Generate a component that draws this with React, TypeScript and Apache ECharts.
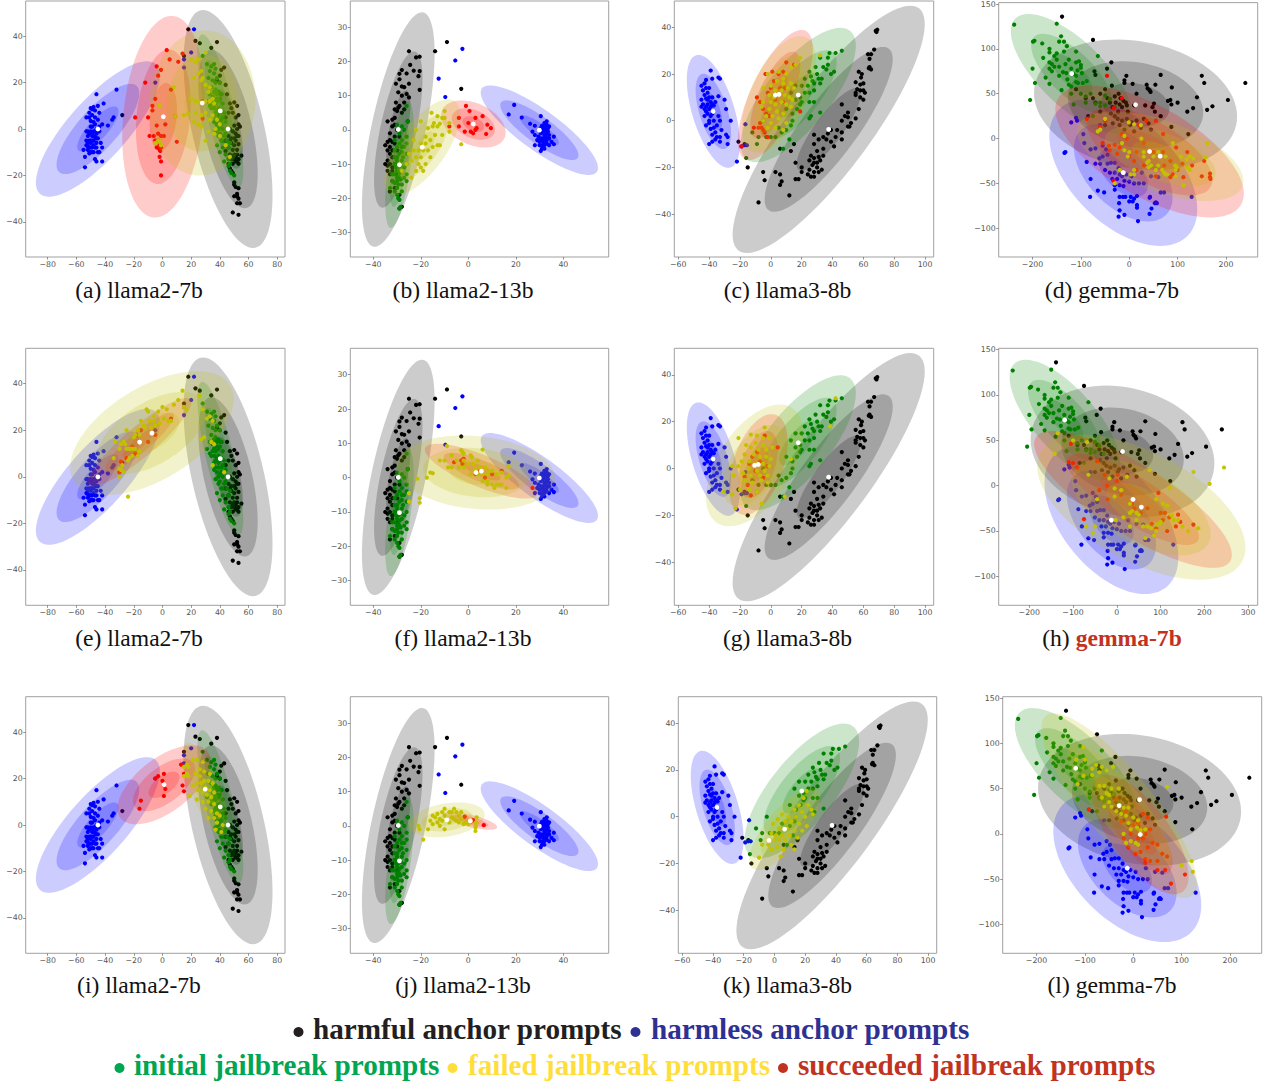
import React, { useEffect, useRef } from "react";
import * as echarts from "echarts";

// ---- tick labels ----
const ticksA = [-80, -60, -40, -20, 0, 20, 40, 60, 80];
const ticksAY = [-40, -20, 0, 20, 40];
const ticksB = [-40, -20, 0, 20, 40];
const ticksBY = [-30, -20, -10, 0, 10, 20, 30];
const ticksC = [-60, -40, -20, 0, 20, 40, 60, 80, 100];
const ticksCY = [-40, -20, 0, 20, 40];
const ticksD = [-200, -100, 0, 100, 200];
const ticksH = [-200, -100, 0, 100, 200, 300];
const ticksDY = [-100, -50, 0, 50, 100, 150];

// ---- axis ranges ----
const rangeAX = [-95.3, 85.4];
const rangeAY = [-55.2, 55.2];
const rangeBX = [-49.7, 59.1];
const rangeBY = [-37.2, 37.7];
const rangeCX = [-62.6, 105.6];
const rangeCY = [-58.4, 51.3];
const rangeDX = [-270, 265.6];
const rangeHX = [-270, 322];
const rangeDY = [-132, 151.5];

// ---- captions ----
const captions = [
  "(a) llama2-7b", "(b) llama2-13b", "(c) llama3-8b", "(d) gemma-7b",
  "(e) llama2-7b", "(f) llama2-13b", "(g) llama3-8b", "(h) gemma-7b",
  "(i) llama2-7b", "(j) llama2-13b", "(k) llama3-8b", "(l) gemma-7b",
];

// ---- ellipse statistics: centre x, centre y, 3-sigma half width, 3-sigma half height, correlation ----
const harmfulStatsA = [45.7, 0, 31, 51.3, -0.56];
const harmlessStatsA = [-45, 0, 43.2, 29.2, 0.79];
const initialStatsA = [40.3, 7.8, 16, 33, -0.78];
const harmfulStatsB = [-29.5, 0.1, 15.3, 34.3, 0.65];
const harmlessStatsB = [29.9, -0.1, 24.7, 13.1, -0.84];
const initialStatsB = [-29, -10.2, 6, 18.5, 0.6];
const harmfulStatsC = [37.5, -3.7, 62.3, 53, 0.85];
const harmlessStatsC = [-37.3, 4, 17.2, 24.2, -0.56];
const initialStatsC = [17.8, 11, 37.3, 28.8, 0.73];
const harmfulStatsD = [13, 37.7, 210, 72.7, -0.18];
const harmlessStatsD = [-12.4, -38, 153, 81.6, -0.5];
const initialStatsD = [-119, 72.4, 126, 66.5, -0.71];

const failedStatsOf = {
  a: [27.7, 11.2, 37, 31.3, 0.05], e: [-7.3, 18.75, 57, 26.6, 0.55], i: [29.8, 15.4, 16, 20, -0.74],
  b: [-19.4, -5.1, 16, 14, 0.68], f: [3.2, 1.5, 33.4, 10.8, -0.16], j: [-9, 1.75, 15.9, 5.1, 0.29],
  c: [5.3, 11.3, 24, 25, 0.57], g: [-10.5, 1.3, 31.5, 26, 0.52], k: [6.6, -5.3, 23, 17.5, 0.75],
  d: [64, -19.6, 172, 50, -0.55], h: [56, -23.7, 238, 80, -0.56], l: [-29, 31.2, 161, 102, -0.84],
};
const succeededStatsOf = {
  a: [0.6, 5.3, 28.6, 43.5, 0.2], e: [-15.9, 14.9, 36, 19, 0.9], i: [1.1, 17.3, 32.4, 17, 0.6],
  b: [2.1, 1.7, 13.6, 6.9, -0.36], f: [5.5, 1.9, 23.8, 8, -0.78], j: [0.85, 1.45, 11.3, 2.6, -0.7],
  c: [2.9, 11, 24.3, 27.9, 0.7], g: [-8.1, 1.7, 19, 21.5, 0.45], k: [-3.6, -10.1, 1.6, 1.1, 0.3],
  d: [42, -14.4, 195, 73.5, -0.64], h: [37, -15.2, 226, 75.5, -0.81], l: [14.5, -0.7, 100, 66, -0.7],
};

// ---- points, column A (llama2-7b) ----
const harmfulA = [[18,43],[23,38],[26,37],[38,37.5],[34,35],[15,31.5],[43,26.5],[41,25.5],[40,23],[38,21],[40,20],[44,19],[45,15],[41,15],[47,11],[50,11.5],[48,9],[52,10],[49,7],[46,7],[53,6],[51,5],[44,5],[53,2],[50,1.5],[47,0],[52,0],[54,1],[49,-1],[52,-3],[46,-3],[48,-4],[51,-5],[44,-5],[50,-7],[53,-6.5],[46,-8],[49,-9],[52,-9],[44,-9.5],[47,-11],[50,-11],[55,-11.5],[53,-13],[48,-13],[51,-14],[49,-15],[53,-15],[46,-15],[47,-17],[49,-19],[48,-18],[50,-23],[50,-24],[51,-25],[53,-25.5],[52,-28],[50,-29],[52,-29],[53,-30],[52,-32],[54,-32],[49,-36],[53,-37],[-28,6],[51,-2],[50,-4],[53,-3],[52,-11],[51,-12],[50,-13],[52,-14],[49,-12],[48,-6],[47,-5]];
const harmlessA = [[22,43],[20,33],[15,30],[15,26.5],[-5,20],[-32,17],[-46,15],[-41,11],[-45,10],[-48,9.5],[-50,9],[-47,8],[-44,7],[-49,6],[-53,5],[-51,5],[-47,5],[-45,4],[-50,3.5],[-35,4],[-34,5],[-38,1.5],[-47,2],[-44,1],[-49,1],[-42,2],[-53,-1],[-50,-1],[-48,-1],[-46,-2],[-44,-1],[-52,-3],[-49,-3],[-47,-3.5],[-45,-4],[-53,-5],[-51,-5],[-48,-5],[-46,-6],[-50,-6],[-43,-6],[-53,-7],[-49,-8],[-51,-8],[-47,-8],[-42,-8],[-55,-9],[-52,-9],[-50,-10],[-48,-10],[-45,-10],[-44,-10],[-54,-12],[-47,-13],[-46,-14],[-42,-14],[-54,-16.5],[-52,-1],[-51,-2],[-49,-2],[-48,-3],[-47,-1],[-46,-4],[-52,-6],[-50,-5],[-49,-5],[-48,-7],[-46,-8],[-52,-7.5],[-50,-8],[-49,-10],[-51,-10.5],[-50,1],[-48,3],[-51,7],[-49,8.5],[-46,0]];
const initialA = [[28,31.5],[31,28],[34,27],[36,28],[37,26],[33,25],[36,24],[32,22],[38,22],[35,21],[37,20],[40,20],[34,18],[37,17],[39,16],[41,15],[35,14],[38,13],[40,13],[37,11],[42,11],[33,10],[36,9],[39,9],[41,8],[43,7],[36,6],[39,6],[42,5],[37,4],[41,4],[38,2],[44,3],[40,1],[42,0],[37,-1],[45,0],[39,-3],[43,-3],[41,-5],[45,-5],[38,-7],[42,-8],[46,-8],[40,-10],[44,-11],[46,-13],[43,-14],[47,-15],[46,-16],[47,-18],[48,-19],[50,-20],[47,-6],[44,-2],[33,15],[31,12],[36,16],[38,15],[39,12],[35,11],[38,8],[40,7],[37,7],[36,3],[39,4],[41,2],[39,0],[40,-2],[42,-5],[36,12],[34,9]];
const failedA1 = [[30,33],[25,30],[20,30],[23,29],[27,25],[25,24],[22,22],[28,22],[8,18],[27,21],[30,19],[33,18],[32,16],[20,13],[23,12],[25,12],[30,12],[33,12],[35,13],[36,11],[23,7],[18,6.5],[9,5.5],[15,6],[27,6],[30,7],[35,6],[33,4],[38,4],[22,3],[25,2],[27,1],[40,2],[37,0],[32,-1],[36,-2],[30,-5],[40,-3],[44,-7],[47,-12],[-2,10],[-5,-6],[-3,-5],[-1,-7],[-2,-5.5]];
const succeededA1 = [[3,34],[5,30],[14,32.5],[11,29],[-4,27],[-1,25.5],[-3,23],[-12,20],[6,17],[28,12],[-7,10],[-10,5],[-19,5],[-7,8],[9,5.5],[-4,1.5],[2,2],[-9,-3],[-6,-3],[-3,-2],[-1,-3],[1,-3],[-5,-5],[-3,-5],[-2,-7],[-3,-8],[-1,-8],[-2,-9],[-1.5,-9.5],[10,-5.5],[-2,-12],[-1,-14],[-1,-20],[-4,-8],[-5,13],[28,4.5]];
const failedA2 = [[14,37],[26,35],[15,30],[17,29],[11,33],[8,31],[3,29],[0,30],[-3,28],[-6,26],[-10,28],[-11,29],[-15,24],[-13,22],[-9,24],[-6,24],[-5,22],[-2,23],[1,25],[4,24],[6,24],[-8,21],[-12,21],[-17,20],[-16,18],[-20,17],[-19,18],[-25,20],[-27,15],[-29,14],[-26,14],[-30,12],[-25,12],[-23,12],[-21,12],[-19,12],[-16,11],[-17,9],[-21,9],[-23,8],[-24,7],[-34,8],[-28,5],[-30,3.5],[-29,3],[-27,2],[-33,15],[-30,0],[-24,-8.5],[29,17],[27,16],[31,25],[28,29],[33,26],[35,24],[34,15],[36,14],[43,2],[35,5]];
const succeededA2 = [[-18,18],[-21,13],[-29,6.5],[-19,10],[6,25],[-15,20],[-30,2],[-25,8],[-10,15],[-5,18]];
const failedA3 = [[17,26],[15,25],[18,25],[21,28],[24,28],[28,27],[18,21],[15,21],[17,22],[23,22],[26,21],[29,19],[32,19],[35,18],[24,18],[27,18],[30,16],[33,15],[36,14],[25,15],[28,14],[31,13],[34,12],[19,12.5],[24,11],[28,10],[32,10],[36,9],[30,7],[34,6],[38,5],[32,3],[36,3],[40,4],[38,1],[42,0],[37,-2],[41,-3],[21,17],[26,24],[29,23],[33,22]];
const succeededA3 = [[-5,20],[-3,21],[1,22],[0,19],[15,22],[14,17],[15,14.5],[2,15.5],[1,12.5],[-15,10.5],[-16,7],[13,26],[1,17]];

// ---- points, column B (llama2-13b) ----
const harmfulB = [[-25,23],[-14,23],[-9,25.7],[-22,21.2],[-20.5,21.4],[-24.5,19],[-28,17.5],[-23,17.3],[-20.5,17.2],[-29,16.4],[-26,16.5],[-21,15.7],[-29,14.8],[-30.5,13.5],[-25,13.5],[-3,12],[-28,12.7],[-27,12.5],[-20.5,11.7],[-29.5,11],[-26,10.5],[-28,10],[-25,9.5],[-30.5,8],[-27,8],[-29,7],[-31,6],[-28,5],[-30,5.5],[-32,3],[-34,2.5],[-25.5,2.5],[-31,1.5],[-32,1],[-30,0],[-33,-1],[-31,-2],[-29,-2],[-33,-3],[-31,-4],[-35,-4.5],[-33,-5],[-30,-6],[-34,-6],[-32,-8],[-35,-10],[-33,-10],[-31,-10],[-34,-12],[-32,-11],[-33,-13],[-30,-13],[-32,-15],[-31,-17],[-33,-18],[-29,-19],[-29,-23],[-28,-22.5],[-32,-3.5],[-34,-3.5],[-32,-6],[-33,-7],[-34,-9],[-32,-12],[-34,-10.5],[-29.5,6.5],[-27,6],[-31,3.5]];
const harmlessB = [[-2.5,23.7],[-5.5,20.3],[-12.5,15],[-9.7,9.6],[19.3,7.3],[17,4.5],[22.5,3.6],[30.5,4],[26,1.8],[28,1.2],[27,-0.5],[33,2.5],[32,2],[31,1.2],[34,1],[30.5,0.5],[32,0],[33.5,-0.5],[30.5,-1],[28,-1.5],[32,-1.5],[34,-1.5],[36,-2],[29,-3],[31,-3],[33,-3],[35,-3.5],[28,-4.5],[30,-4.5],[32,-4.5],[34,-4.5],[36,-4.2],[31,-5.5],[30.5,-6.2],[33,-2.5],[31.5,-3.5],[32.5,0.8],[33,-1],[29.5,-2],[31,0],[33,1.5],[32,1],[33.5,0.5],[31.5,-0.5],[33,0],[32.5,-2],[31.5,-2.5],[34,-2.5],[30.5,-2.5],[32,-3.5],[33,-4],[31,-4.5],[32,-5.5],[30,-3.5]];
const initialB = [[-26,7],[-30,1.5],[-28,1],[-25.5,2.5],[-27,0],[-29,-1],[-26,-2],[-31,-3],[-28,-3],[-26,-4],[-30,-5],[-28,-5],[-31,-6],[-29,-7],[-26,-7],[-30,-8],[-28,-9],[-26,-10],[-31,-10],[-29,-10],[-27,-11],[-30,-12],[-28,-12],[-26,-13],[-31,-13],[-29,-14],[-27,-14],[-32,-15],[-30,-15],[-28,-16],[-26,-15],[-33,-17],[-30,-17],[-31,-18],[-28,-18],[-30,-19],[-29.5,-20],[-29,-20.5],[-29,-23],[-28.5,-22.5],[-32,-13],[-27,-5],[-31,-8],[-29,-4],[-28,-6.5],[-30,-9],[-27.5,-8],[-29.5,-11],[-28.5,-10.5],[-30.5,-11],[-29,-12.5],[-29.5,-13.5],[-30,-14],[-28.5,-14.5],[-29.5,-16],[-31,-15.5]];
const failedB1 = [[-15.5,5],[-13,4],[-10,5.5],[-11,3.5],[-10,3.5],[-8,2],[-14.5,2],[-12,1.8],[-15,1],[-13,1],[-20,2.5],[-17,0.5],[-22,0],[-8,-0.5],[-18,-2],[-11,-1.5],[-14,-1.5],[-16,-3],[-20,-4],[-23,-3],[-18,-4],[-15,-5],[-13,-4.5],[-12,-4.5],[-21,-6],[-23,-6],[-25,-7],[-19,-6],[-17,-6],[-16,-8],[-20,-8],[-22,-8],[-24,-9],[-18,-10],[-21,-10],[-20,-11],[-22,-12],[-19,-12],[-3,-4.2],[-26,-10],[-28,-12],[-24,-14]];
const succeededB1 = [[-1,7],[0.5,5.5],[-4,3.5],[3,3.5],[6,4],[-4,1],[8,1.5],[9.5,0.5],[-1.5,-0.5],[1,-0.5],[2,-1],[3,0],[3.5,0.5],[7.5,-1.2],[0,2],[-8,1]];
const failedB2 = [[-9,9.2],[-3,8],[-2.5,7.5],[-2,7],[6,8.2],[1,6.5],[1.5,6],[-7,6.5],[-10,5],[-5,5],[-2,5],[-4,3],[-7,3],[-2,3],[0,4],[2,4],[4,5],[-12,5],[-8.5,3],[3,2.5],[5,3],[7,3],[9,2],[1,1],[4,1],[6,1],[8,1],[10,2],[12,1],[14,1.5],[16,0],[17,0.5],[6,-1],[8,-1],[10,-2],[12,-2],[14,-2],[13,-2],[11,-3],[8,-2],[16,-3],[-16,1.5],[-15,1.3],[-17.5,0],[-21.5,-0.3],[-25,-4.5],[-20.5,-6],[-25,-7],[-20.5,-7.3],[17,3.3]];
const succeededB2 = [[-6,4.5],[-3,5],[-2,5.5],[-2.5,4],[14,2],[7,0],[3,1],[27,-3],[10,1],[5,2]];
const failedB3 = [[-21,0],[-20.5,-1],[-19,-4],[-17,-1],[-16,1.5],[-15,0.5],[-15,3],[-14,2.5],[-13,3.5],[-13,1],[-12,2],[-12,0],[-11,1.5],[-11,4],[-10,5],[-10,3],[-10,-1],[-9,2],[-8,1],[-8,4],[-7,2.5],[-7,4],[-6,5],[-6,2],[-5,1.5],[-5,4],[-4,3],[-4,1],[-3,2],[-3,4],[-2,0.5],[-1,1],[0,0.5],[3.5,2.5],[3.3,1],[3,-0.5],[3,-1.5],[3.2,0]];
const succeededB3 = [[-1.5,2.7],[2,1.7],[6.5,0.2],[1,1.3]];

// ---- points, column C (llama3-8b) ----
const harmfulC = [[68.5,38],[69,39],[68,38.5],[67,30.5],[65,28.5],[63,28.5],[64,26.5],[64,23],[65,22],[63.5,22.5],[57,21],[59,20],[58.5,18.5],[55,16.5],[60,16],[58,15.5],[56,13.5],[58,13],[60,13],[55,12],[61,12],[58,10],[55,11],[60,9],[46,7],[57,5],[55,1],[50,3.5],[48,2],[50,1.5],[46,0],[52,-1],[50,-2.5],[51,-2.5],[39,-4],[43,-4],[37,-5.5],[46,-5],[34,-7],[42,-7],[28,-6],[31,-8],[36,-8],[39,-9],[46,-8],[28,-10],[34,-12],[30,-13],[41,-11],[34,-15],[26,-15],[28,-16],[31,-15.5],[25,-17],[28,-18],[30,-18],[32,-17],[16,-18],[20,-20],[25,-21],[27,-19],[30,-20],[33,-21],[24,-23],[28,-22],[31,-22],[26,-24],[28,-24],[16,-25],[18,-25],[20,-22],[3,-22],[6,-23],[-5,-22],[-4,-25.5],[7,-26],[6,-27.5],[12,-32],[-8,-35],[-15,-20],[-21,-9],[-17,-10],[13,-13],[15,-10],[6,-12]];
const harmlessC = [[-39,21.5],[-34,18.5],[-33,18],[-42,17.5],[-38,18],[-43,16],[-45,15],[-42,14],[-40,14],[-44,13],[-41,12],[-43,11],[-38,10],[-34,10.5],[-42,9.5],[-30,9],[-45,9],[-39,8],[-36,8],[-44,7],[-41,7],[-37,6.5],[-45,6],[-40,5],[-43,5],[-29,5],[-37,4],[-41,3],[-43,2],[-39,2],[-34,2],[-33,0],[-37,0],[-40,-1],[-42,-2],[-26,0],[-35,-2],[-39,-3.5],[-32,-4],[-36,-5],[-38,-6],[-29,-6],[-33,-7],[-28,-7],[-36,-8],[-38,-9],[-33,-9],[-28,-10],[-40,-10],[-22,-17.5],[-19,-11],[-17,-10.5],[-15.5,-10.5],[-16.5,-1.5],[-42,6],[-39,6],[-41,9],[-38,7],[-40,10],[-42,4],[-38,3],[-40,0],[-37,-3],[-35,-7]];
const initialC = [[46,30],[42,29],[38,29],[37,27],[32,27],[37,24],[34,23],[36,22],[41,21],[29,23],[25,21],[39,20],[30,20],[26,19],[33,18],[31,18],[27,17],[28,16],[32,16],[22,18],[24,15],[28,13],[25,12],[22,12],[19,10],[20,8],[25,8],[28,8],[19,7],[16,9],[17,5],[14,3],[26,2],[25,1],[32,3.5],[14,0],[13,-2],[10,-4],[7,-5],[3,-7],[0,-7],[-3,-7],[-9,-10],[-8,-7],[-16,-16],[-12,-5],[-5,0],[8,-12],[12,-8],[5,-3],[10,5],[13,12],[16,15],[20,15]];
const failedC1 = [[32,28],[19,27],[16,24],[13,23],[10,20],[5,21],[8,18],[-2,20],[4,17],[8,16],[13,16],[-5,14],[0,15],[3,13],[7,13],[11,14],[15,14],[-1,11],[2,10],[5,11],[9,11],[12,10],[-5,8],[0,8],[3,7],[7,8],[10,7],[13,6],[-6,6],[-1,5],[4,4],[8,3],[-3,2],[1,2],[5,1],[-5,0],[0,-1],[3,-3],[-2,-3],[8,-4],[14,9],[10,-1]];
const succeededC1 = [[10,25],[-3.5,20],[15,24],[1,21],[5,20],[8,21],[-9,10],[-7,8],[0,14],[4,11],[8,8],[-5,5],[-1,2],[3,9],[-7,-1],[-11,-3],[-4,-5],[-2,-7],[19,4],[-19,-11],[-5,-4],[6,14],[9,14],[2,17],[-2,12],[-3,3],[-6,-3],[-8,-3]];
const failedC2 = [[42,30],[38.5,18],[-4,17.5],[-13,14.5],[-9,14],[-5,13],[-1,13],[-16,10],[-10,11],[-5,10],[-13,9],[-8,8],[-3,8],[1,9],[-17,6],[-11,6],[-7,5],[-3,5],[0,4],[-19,3],[-14,3],[-9,2],[-5,2],[-1,1],[-21,1],[-25,1],[-14,0],[-9,-1],[-4,-1],[-18,-2],[-13,-3],[-7,-3],[-2,-3],[-24,-3],[-17,-5],[-12,-6],[-6,-5],[-2,-6],[-20,-9],[-14,-9],[-9,-10],[-31,-10],[-25,-11],[-6,-15],[-23,-17],[9,-12],[13,4],[-21,13]];
const succeededC2 = [[-4,14],[4.5,9],[-14,2],[-17,-3.5],[-13,-11.5],[-10,-1],[-7,3],[-12,5],[-5,-4],[-15,-7],[-9,7],[-2,1]];
const failedC3 = [[21,11],[19,8],[22,5],[16,5],[24,3],[13,3],[18,2],[5,1],[9,0],[14,0],[20,0],[25,1],[2,-1],[7,-2],[11,-2],[16,-3],[21,-4],[-1,-3],[3,-5],[8,-5],[13,-6],[18,-6],[-2,-7],[1,-8],[5,-8],[10,-8],[15,-9],[-3,-10],[0,-10],[3,-10],[7,-10],[11,-12],[-4,-12],[-2,-14],[2,-13],[6,-14],[13,-14],[4,-17],[-10,-17.5],[-8,-12]];
const succeededC3 = [[-3.6,-10.1]];

// ---- points, column D (gemma-7b) ----
const harmfulD = [[-139,136],[-75,110],[-37,85],[-46,78],[-72,75],[-70,71],[-6,70],[65,71],[150,70],[155,62],[240,62],[-10,65],[-10,62],[7,61],[-36,59],[36,60],[54,60],[38,56],[42,54],[44,52],[88,57],[-22,50],[15,50],[140,46],[204,43],[80,42],[85,43],[-30,47],[-18,45],[87,38],[100,40],[10,37],[33,37],[-7,40],[51,39],[48,35],[120,30],[132,34],[161,32],[172,36],[-40,40],[-23,30],[-15,35],[-38,28],[-3,30],[53,30],[65,25],[15,20],[45,10],[87,13],[122,5],[-85,25],[-50,15],[-10,10],[-70,40],[-60,30],[-34,17],[40,17],[10,8],[2,15],[-110,55],[-50,55],[-90,45],[-15,20],[30,22],[-24,22],[24,12],[-28,40],[-20,38],[-12,42],[-5,37],[-45,45],[-35,35],[-30,25],[-20,15],[-5,22],[5,18],[-60,50],[-75,45]];
const harmlessD = [[-134,-16],[-132,-15],[-88,-26],[-93,-5],[-120,18],[-108,20],[-110,23],[-80,-45],[-65,-58],[-52,-60],[-20,-65],[-13,-65],[-8,-65],[-81,-65],[-21,-72],[3,-65],[10,-67],[7,-70],[16,-64],[0,-70],[-20,-80],[-10,-85],[-22,-87],[18,-92],[16,-74],[16,-77],[42,-84],[46,-78],[55,-71],[53,-72],[43,-65],[129,-65],[-30,-52],[-20,-52],[-12,-53],[-30,-57],[-45,-28],[-60,-28],[-70,-28],[-45,-18],[-70,-11],[-55,-8],[-40,-38],[-50,-35],[-30,-38],[-20,-40],[-10,-47],[0,-48],[10,-50],[20,-50],[30,-50],[42,-66],[57,-72],[72,-60],[65,-60],[-6,-40],[5,-42],[26,-38],[45,-42],[60,-43],[-95,5],[-60,15],[-30,-27],[-38,-27],[-25,-45],[-15,-42],[-22,-33],[-55,-20],[-62,-22],[-48,-12],[-80,-12],[-35,-45]];
const initialD = [[-238,127],[-150,128],[-141,114],[-135,108],[-196,109],[-199,108],[-180,106],[-145,108],[-129,103],[-165,100],[-165,96],[-110,97],[-150,95],[-135,97],[-178,90],[-155,92],[-65,92],[-150,88],[-125,88],[-104,86],[-165,85],[-132,83],[-160,83],[-100,82],[-100,79],[-200,78],[-145,80],[-110,85],[-165,78],[-155,80],[-120,78],[-107,76],[-130,73],[-160,75],[-137,74],[-115,72],[-98,73],[-173,68],[-145,70],[-110,70],[-128,66],[-106,62],[-96,62],[-88,64],[-165,61],[-195,62],[-110,63],[-125,60],[-120,58],[-140,54],[-120,50],[-205,43],[-115,38],[-90,40],[-60,40],[-70,39],[-50,37],[-60,36],[-80,50],[-90,47],[-50,48],[-40,44],[-100,50],[-30,35],[-75,25]];
const failedD1 = [[162,-5],[-60,10],[-65,8],[-10,-13],[0,-15],[-1,18],[10,16],[24,15],[37,-27],[-3,-20],[25,0],[30,-15],[60,-15],[90,-5],[119,-23],[40,-25],[75,-20],[60,-30],[45,-30],[40,-32],[55,-35],[68,-35],[72,-38],[78,-40],[96,-35],[95,-30],[98,-32],[96,-42],[125,-35],[120,-32],[158,-21],[132,-22],[125,-20],[75,-40],[50,-20],[10,-35],[-50,22],[-30,-50],[10,-40],[3,-40],[107,-20],[112,-52],[-10,3],[-15,-5],[-20,-35],[30,-20]];
const succeededD1 = [[-46,70],[-15,45],[-32,34],[-88,22],[-50,20],[-60,13],[-55,-5],[-30,-7],[-40,-13],[-33,-47],[-42,-8],[-15,5],[20,15],[35,20],[55,20],[70,5],[-5,0],[-20,-10],[0,-20],[10,-25],[15,-35],[30,-30],[50,-15],[70,-15],[85,-25],[110,-28],[130,-30],[155,-25],[167,-39],[167,-43],[150,-42],[112,-43],[90,-40],[85,-43],[55,-42],[72,-30],[97,-10],[120,-15],[100,-35],[168,-45],[30,-5],[15,-15],[-25,-17]];
const failedD2 = [[245,20],[175,15],[212,2],[75,17],[122,-2],[90,-15],[-5,-3],[-17,8],[-65,12],[-45,-15],[-50,-45],[-70,-45],[-55,-52],[-135,58],[-142,35],[-68,48],[-100,50],[10,-5],[23,10],[-5,-12],[30,-20],[35,-28],[15,-35],[30,-45],[45,-30],[50,-32],[45,-38],[60,-45],[70,-45],[78,-47],[92,-43],[97,-42],[100,-40],[90,-50],[85,-55],[65,-58],[115,-22],[125,-33],[130,-38],[140,-38],[150,-45],[163,-50],[186,-47],[105,-20],[-3,-38],[30,-30]];
const succeededD2 = [[-110,26],[-100,25],[-90,20],[-105,46],[-45,27],[-28,12],[2,12],[-75,-37],[-22,0],[-40,-5],[10,-10],[35,-20],[40,-25],[70,-25],[95,-8],[100,-30],[110,-30],[105,-38],[140,-32],[145,-40],[175,-43],[135,-45],[115,-50],[80,-42],[90,-47],[55,-30],[0,5],[-20,-15],[120,-35]];
const failedD3 = [[-118,82],[-103,96],[-100,82],[-77,76],[-103,64],[-85,72],[-70,68],[-115,55],[-65,74],[-55,70],[-42,74],[-85,65],[-60,53],[-70,53],[-55,45],[-45,50],[-30,50],[-65,40],[-50,35],[-60,30],[-45,30],[-35,25],[-25,22],[-20,29],[-10,29],[-15,20],[0,18],[10,15],[-10,12],[8,7],[-5,5],[15,4],[25,5],[-20,0],[-15,-10],[-5,-8],[5,-10],[10,-12],[70,52],[100,-35],[123,-42],[121,-30],[-50,43]];
const succeededD3 = [[-92,27],[-35,38],[-15,25],[20,22],[30,18],[68,19],[0,10],[10,-5],[20,-5],[25,0],[35,5],[-20,-5],[-10,-15],[5,-22],[15,-20],[25,-28],[35,-30],[50,-30],[50,-40],[66,-40],[107,-45],[78,-55],[25,-32],[60,-22],[40,-10],[50,-12],[30,-15],[-5,0],[10,12],[-25,14],[70,-25]];

const columns = [
  { xr: rangeAX, yr: rangeAY, xt: ticksA, yt: ticksAY, harmful: harmfulA, harmless: harmlessA, initial: initialA, hs: harmfulStatsA, ls: harmlessStatsA, is: initialStatsA },
  { xr: rangeBX, yr: rangeBY, xt: ticksB, yt: ticksBY, harmful: harmfulB, harmless: harmlessB, initial: initialB, hs: harmfulStatsB, ls: harmlessStatsB, is: initialStatsB },
  { xr: rangeCX, yr: rangeCY, xt: ticksC, yt: ticksCY, harmful: harmfulC, harmless: harmlessC, initial: initialC, hs: harmfulStatsC, ls: harmlessStatsC, is: initialStatsC },
  { xr: rangeDX, yr: rangeDY, xt: ticksD, yt: ticksDY, harmful: harmfulD, harmless: harmlessD, initial: initialD, hs: harmfulStatsD, ls: harmlessStatsD, is: initialStatsD },
];
const failedPts = [[failedA1, failedB1, failedC1, failedD1], [failedA2, failedB2, failedC2, failedD2], [failedA3, failedB3, failedC3, failedD3]];
const succeededPts = [[succeededA1, succeededB1, succeededC1, succeededD1], [succeededA2, succeededB2, succeededC2, succeededD2], [succeededA3, succeededB3, succeededC3, succeededD3]];
const panelKeys = ["abcd", "efgh", "ijkl"];

// layout (pixels)
const colBoxes = [[25.7, 285], [350.3, 608.7], [674.3, 933.7], [998.7, 1257.7]];
const colBoxesRow3 = [[25.7, 285], [350.3, 608.7], [678.3, 936.7], [1002.7, 1261.7]];
const rowBoxes = [[1, 257], [348.3, 605.3], [696.7, 953.3]];
const captionX = [139, 463, 787.5, 1112];
const captionY = [290, 638, 984.5];

const COLORS = { harmful: "#000000", harmless: "#0000ff", initial: "#008000", failed: "#c4c400", succeeded: "#ff0000" };

function ellipseSeries(gi: number, stats: number[], color: string, z: number) {
  return {
    type: "custom",
    xAxisIndex: gi,
    yAxisIndex: gi,
    silent: true,
    z,
    encode: { x: 0, y: 1 },
    data: [3, 2, 1].map((k) => [stats[0], stats[1], stats[2], stats[3], stats[4], k / 3]),
    renderItem: (_p: any, api: any) => {
      const cx = api.value(0), cy = api.value(1), sx = api.value(2), sy = api.value(3), r = api.value(4), k = api.value(5);
      const q = Math.sqrt(1 - r * r);
      const points: number[][] = [];
      for (let i = 0; i < 90; i++) {
        const t = (i / 90) * Math.PI * 2;
        const c = Math.cos(t), s = Math.sin(t);
        points.push(api.coord([cx + k * sx * c, cy + k * sy * (r * c + q * s)]));
      }
      return { type: "polygon", shape: { points }, style: { fill: color, opacity: 0.2 } };
    },
  };
}

function scatterSeries(gi: number, data: number[][], color: string, z: number, size = 4.2) {
  return {
    type: "scatter",
    xAxisIndex: gi,
    yAxisIndex: gi,
    silent: true,
    z,
    symbolSize: size,
    itemStyle: { color, opacity: 1 },
    data,
  };
}

const fmt = (v: number) => String(v).replace("-", "\u2212");

function buildOption() {
  const grid: any[] = [], xAxis: any[] = [], yAxis: any[] = [], series: any[] = [], graphic: any[] = [];
  const axisCommon = (ticks: number[]) => ({
    type: "value",
    splitLine: { show: false },
    axisLine: { show: false, onZero: false },
    axisTick: { show: true, length: 2.5, inside: false, lineStyle: { color: "#777", width: 0.8 }, customValues: ticks },
    axisLabel: { show: true, fontSize: 7.8, fontFamily: "DejaVu Sans", color: "#555", margin: 3, customValues: ticks, formatter: fmt },
  });
  for (let r = 0; r < 3; r++) {
    for (let c = 0; c < 4; c++) {
      const col = columns[c];
      const gi = r * 4 + c;
      const key = panelKeys[r][c];
      const xb = (r === 2 ? colBoxesRow3 : colBoxes)[c];
      const yb = rowBoxes[r];
      grid.push({
        show: true, left: xb[0], top: yb[0], width: xb[1] - xb[0], height: yb[1] - yb[0],
        borderColor: "#a0a0a0", borderWidth: 1, backgroundColor: "#fff", containLabel: false,
      });
      const xr = key === "h" ? rangeHX : col.xr;
      const xt = key === "h" ? ticksH : col.xt;
      xAxis.push({ ...axisCommon(xt), gridIndex: gi, position: "bottom", min: xr[0], max: xr[1] });
      yAxis.push({ ...axisCommon(col.yt), gridIndex: gi, position: "left", min: col.yr[0], max: col.yr[1] });

      const fs = (failedStatsOf as any)[key];
      const ss = (succeededStatsOf as any)[key];
      series.push(scatterSeries(gi, col.harmful, COLORS.harmful, 2), ellipseSeries(gi, col.hs, COLORS.harmful, 3));
      series.push(scatterSeries(gi, col.harmless, COLORS.harmless, 4), ellipseSeries(gi, col.ls, COLORS.harmless, 5));
      series.push(scatterSeries(gi, col.initial, COLORS.initial, 6), ellipseSeries(gi, col.is, "#008000", 7));
      series.push(scatterSeries(gi, succeededPts[r][c], COLORS.succeeded, 8), ellipseSeries(gi, ss, COLORS.succeeded, 9));
      series.push(scatterSeries(gi, failedPts[r][c], COLORS.failed, 10), ellipseSeries(gi, fs, "#bfbf00", 11));
      series.push(scatterSeries(gi, [col.hs, col.ls, col.is, ss, fs].map((s) => [s[0], s[1]]), "#ffffff", 12, 4.8));

      const caption = captions[gi];
      const serif = "Liberation Serif";
      if (key === "h") {
        graphic.push({
          type: "text", x: captionX[c], y: captionY[r],
          style: {
            text: "{a|(h) }{b|gemma-7b}", align: "center", verticalAlign: "middle",
            rich: {
              a: { fontFamily: serif, fontSize: 23.6, fill: "#111" },
              b: { fontFamily: serif, fontSize: 23.6, fontWeight: "bold", fill: "#c1331f" },
            },
          },
        });
      } else {
        graphic.push({
          type: "text", x: captionX[c], y: captionY[r],
          style: { text: caption, fontFamily: serif, fontSize: 23.6, fill: "#111", align: "center", verticalAlign: "middle" },
        });
      }
    }
  }
  const legend = [
    { dot: 298.5, x: 313, y: 1029, label: "harmful anchor prompts", color: "#231f20" },
    { dot: 635.5, x: 651, y: 1029, label: "harmless anchor prompts", color: "#2e3192" },
    { dot: 119.5, x: 134, y: 1065, label: "initial jailbreak prompts", color: "#00a651" },
    { dot: 452.5, x: 468, y: 1065, label: "failed jailbreak prompts", color: "#ffde3b" },
    { dot: 783, x: 798, y: 1065, label: "succeeded jailbreak prompts", color: "#c1331f" },
  ];
  legend.forEach((l) => {
    graphic.push({ type: "circle", shape: { cx: l.dot, cy: l.y + 3, r: 5 }, style: { fill: l.color } });
    graphic.push({
      type: "text", x: l.x, y: l.y,
      style: { text: l.label, fontFamily: "Liberation Serif", fontWeight: "bold", fontSize: 29.2, fill: l.color, align: "left", verticalAlign: "middle" },
    });
  });
  return { animation: false, backgroundColor: "#ffffff", grid, xAxis, yAxis, series, graphic };
}

export default function App() {
  const ref = useRef<HTMLDivElement>(null);
  useEffect(() => {
    const chart = echarts.init(ref.current!, undefined, { renderer: "svg" });
    chart.setOption(buildOption() as any);
    return () => chart.dispose();
  }, []);
  return <div ref={ref} style={{ position: "absolute", left: 0, top: 0, width: 1268, height: 1086 }} />;
}
